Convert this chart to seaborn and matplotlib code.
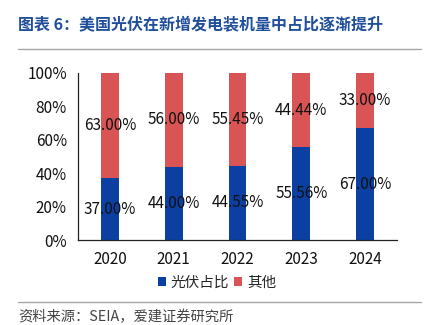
import matplotlib
matplotlib.use("Agg")
import matplotlib.pyplot as plt
from matplotlib.lines import Line2D
from matplotlib.patches import Patch
import seaborn as sns
import pandas as pd

years = ["2020", "2021", "2022", "2023", "2024"]
solar = [37.00, 44.00, 44.55, 55.56, 67.00]
other = [63.00, 56.00, 55.45, 44.44, 33.00]
yticks = [0, 20, 40, 60, 80, 100]
title = "图表 6：美国光伏在新增发电装机量中占比逐渐提升"
source = "资料来源：SEIA，爱建证券研究所"
series_names = ["光伏占比", "其他"]

BLUE = "#0B40A2"
RED = "#D95555"

sns.set_theme(style="white")
plt.rcParams["font.family"] = ["Noto Sans CJK SC", "DejaVu Sans"]

df = pd.DataFrame({"year": years, "solar": solar, "other": other})
df["total"] = df["solar"] + df["other"]

fig = plt.figure(figsize=(4.32, 3.25), dpi=100)
ax = fig.add_axes([0.1806, 0.2615, 0.7384, 0.5139])

sns.barplot(data=df, x="year", y="total", color=RED, width=0.28,
            saturation=1, ax=ax, linewidth=0)
sns.barplot(data=df, x="year", y="solar", color=BLUE, width=0.28,
            saturation=1, ax=ax, linewidth=0)

for i, (s, o) in enumerate(zip(solar, other)):
    ax.text(i, s / 2, f"{s:.2f}%", ha="center", va="center", fontsize=11, color="#111111")
    ax.text(i, s + o / 2, f"{o:.2f}%", ha="center", va="center", fontsize=11, color="#111111")

ax.set_xlim(-0.5, len(years) - 0.5)
ax.set_ylim(0, 100)
ax.set_yticks(yticks)
ax.set_yticklabels([f"{v}%" for v in yticks], fontsize=11, color="#111111")
ax.set_xticks(range(len(years)))
ax.set_xticklabels(years, fontsize=11, color="#111111")
ax.set_xticks([i - 0.5 for i in range(len(years) + 1)], minor=True)
ax.tick_params(axis="x", which="major", length=0, pad=8)
ax.tick_params(axis="x", which="minor", length=5, direction="in", width=0.9, color="#222222")
ax.tick_params(axis="y", which="major", length=6, direction="in", width=0.9, color="#222222", pad=8)
ax.set_xlabel("")
ax.set_ylabel("")
for side in ["top", "right"]:
    ax.spines[side].set_visible(False)
for side in ["left", "bottom"]:
    ax.spines[side].set_color("#222222")
    ax.spines[side].set_linewidth(0.9)

handles = [Patch(facecolor=BLUE, edgecolor="none"), Patch(facecolor=RED, edgecolor="none")]
fig.legend(handles, series_names, loc="center", bbox_to_anchor=(217 / 432, 1 - 283 / 325),
           ncol=2, frameon=False, fontsize=10.5, handlelength=0.55, handleheight=0.55,
           handletextpad=0.35, columnspacing=0.3)

fig.text(18 / 432, 1 - 24 / 325, title, fontsize=11.5, fontweight="bold",
         color="#1F4E9A", ha="left", va="center")
fig.text(18 / 432, 1 - 317 / 325, source, fontsize=10.3, color="#444444",
         ha="left", va="center")
fig.add_artist(Line2D([18 / 432, 421 / 432], [1 - 49 / 325, 1 - 49 / 325],
                      color="#A8A8A8", linewidth=1))
fig.add_artist(Line2D([18 / 432, 421 / 432], [1 - 302 / 325, 1 - 302 / 325],
                      color="#A8A8A8", linewidth=1))

fig.savefig("out.png", dpi=100)
